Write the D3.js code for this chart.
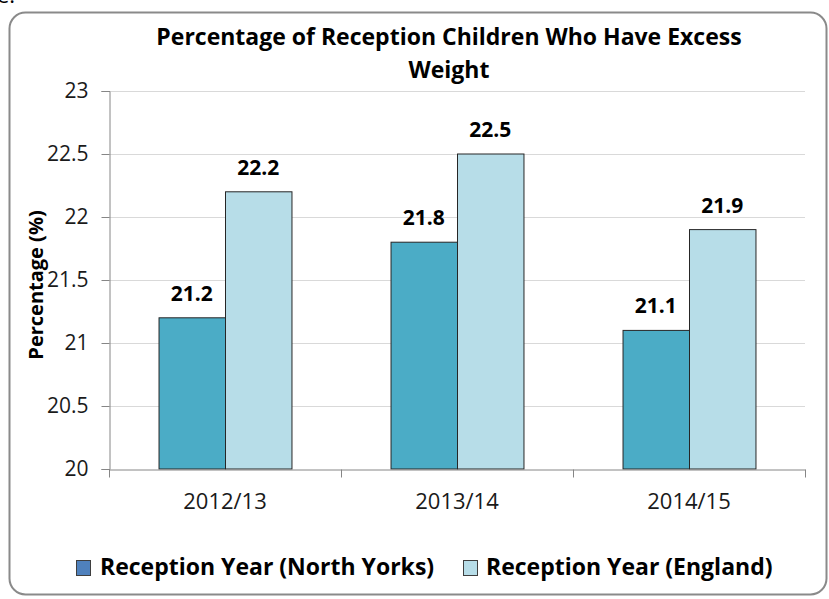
<!DOCTYPE html>
<html>
<head>
<meta charset="utf-8">
<script src="https://cdn.jsdelivr.net/npm/d3@7"></script>
<style>
  body { margin: 0; background: #fff; }
  svg { display: block; font-family: "Open Sans", sans-serif; }
</style>
</head>
<body>
<div id="chart"></div>
<script>
var categories = ["2012/13", "2013/14", "2014/15"]
var seriesNames = ["Reception Year (North Yorks)", "Reception Year (England)"]
var northYorks = [21.2, 21.8, 21.1]
var england = [22.2, 22.5, 21.9]
var yTicks = [20, 20.5, 21, 21.5, 22, 22.5, 23]
var titleLines = ["Percentage of Reception Children Who Have Excess", "Weight"]

var W = 829, H = 599
var margin = {top: 91, right: 24, bottom: 130, left: 109}
var width = W - margin.left - margin.right,
    height = H - margin.top - margin.bottom

var barColors = ["#4bacc6", "#b7dde8"]
var legendColors = ["#4f81bd", "#b7dde8"]

var svg = d3.select("#chart").append("svg")
    .attr("width", W)
    .attr("height", H)

// leftover text from the page above the chart
svg.append("text")
    .attr("x", -3).attr("y", 3)
    .style("font-size", "22px")
    .text("e.")

// chart frame
svg.append("rect")
    .attr("x", 9.5).attr("y", 12.5)
    .attr("width", 817).attr("height", 582)
    .attr("rx", 16).attr("ry", 16)
    .attr("fill", "#fff")
    .attr("stroke", "#8a8a8a")
    .attr("stroke-width", 2)

svg.selectAll(".title")
    .data(titleLines)
    .enter().append("text")
    .attr("class", "title")
    .attr("x", 449)
    .attr("y", (d, i) => 45 + i * 33)
    .attr("text-anchor", "middle")
    .style("font-size", "23px")
    .style("font-weight", "bold")
    .text(d => d)

var g = svg.append("g")
    .attr("transform", "translate(" + margin.left + "," + margin.top + ")")

var x0 = d3.scaleBand()
    .domain(categories)
    .range([0, width])
    .padding(0)

var x1 = d3.scaleBand()
    .domain(seriesNames)
    .range([0, x0.bandwidth()])
    .paddingInner(0)
    .paddingOuter(0.745)

var y = d3.scaleLinear()
    .domain([20, 23])
    .range([height, 0])

// gridlines
g.append("g")
    .selectAll("line")
    .data(yTicks.slice(1))
    .enter().append("line")
    .attr("x1", 0).attr("x2", width)
    .attr("y1", d => Math.round(y(d)) + 0.5)
    .attr("y2", d => Math.round(y(d)) + 0.5)
    .attr("stroke", "#d9d9d9")

// y axis
var yAxis = g.append("g")
    .attr("transform", "translate(0.5,0)")
    .call(d3.axisLeft(y).tickValues(yTicks).tickFormat(d3.format("")).tickSize(8).tickPadding(13))
yAxis.select(".domain").attr("stroke", "#868686")
yAxis.selectAll(".tick line").attr("stroke", "#868686")
yAxis.selectAll(".tick text")
    .attr("fill", "#1a1a1a")
    .style("font-size", "21px")
    .style("font-family", "'Open Sans', sans-serif")

g.append("text")
    .attr("transform", "translate(-66," + (height / 2 + 5) + ") rotate(-90)")
    .attr("text-anchor", "middle")
    .style("font-size", "20px")
    .style("font-weight", "bold")
    .text("Percentage (%)")

// bars
var rows = categories.map((c, i) => ({cat: c, values: [northYorks[i], england[i]]}))

var groups = g.selectAll(".group")
    .data(rows)
    .enter().append("g")
    .attr("class", "group")
    .attr("transform", d => "translate(" + x0(d.cat) + ",0)")

groups.selectAll("rect")
    .data(d => d.values.map((v, j) => ({name: seriesNames[j], value: v, j: j})))
    .enter().append("rect")
    .attr("x", d => x1(d.name) + 0.5)
    .attr("y", d => y(d.value))
    .attr("width", x1.bandwidth())
    .attr("height", d => height - y(d.value))
    .attr("fill", d => barColors[d.j])
    .attr("stroke", "#262626")
    .attr("stroke-width", 1)

groups.selectAll(".label")
    .data(d => d.values.map((v, j) => ({name: seriesNames[j], value: v})))
    .enter().append("text")
    .attr("class", "label")
    .attr("x", d => x1(d.name) + x1.bandwidth() / 2)
    .attr("y", d => y(d.value) - 17)
    .attr("text-anchor", "middle")
    .style("font-size", "21px")
    .style("font-weight", "bold")
    .text(d => d.value.toFixed(1))

// x axis
var xAxis = g.append("g")
    .attr("transform", "translate(0," + (height + 0.5) + ")")
    .call(d3.axisBottom(x0).tickSize(0))
xAxis.select(".domain").attr("stroke", "#868686")
xAxis.selectAll(".tick text")
    .attr("y", 39)
    .attr("dy", null)
    .attr("fill", "#1a1a1a")
    .style("font-size", "22px")
    .style("font-family", "'Open Sans', sans-serif")

// category separator ticks
xAxis.selectAll(".sep")
    .data(d3.range(categories.length + 1))
    .enter().append("line")
    .attr("class", "sep")
    .attr("x1", d => Math.round(d * x0.step()) + 0.5)
    .attr("x2", d => Math.round(d * x0.step()) + 0.5)
    .attr("y1", 0).attr("y2", 8)
    .attr("stroke", "#868686")

// legend
var legendX = [76, 463]
var legend = svg.selectAll(".legend")
    .data(seriesNames)
    .enter().append("g")
    .attr("class", "legend")
    .attr("transform", (d, i) => "translate(" + legendX[i] + ",560)")

legend.append("rect")
    .attr("x", 0.5).attr("y", 0.5)
    .attr("width", 14).attr("height", 15)
    .attr("fill", (d, i) => legendColors[i])
    .attr("stroke", "#3f3f3f")

legend.append("text")
    .attr("x", (d, i) => i == 0 ? 24 : 23)
    .attr("y", 15)
    .style("font-size", "23px")
    .style("font-weight", "bold")
    .text(d => d)
</script>
</body>
</html>
